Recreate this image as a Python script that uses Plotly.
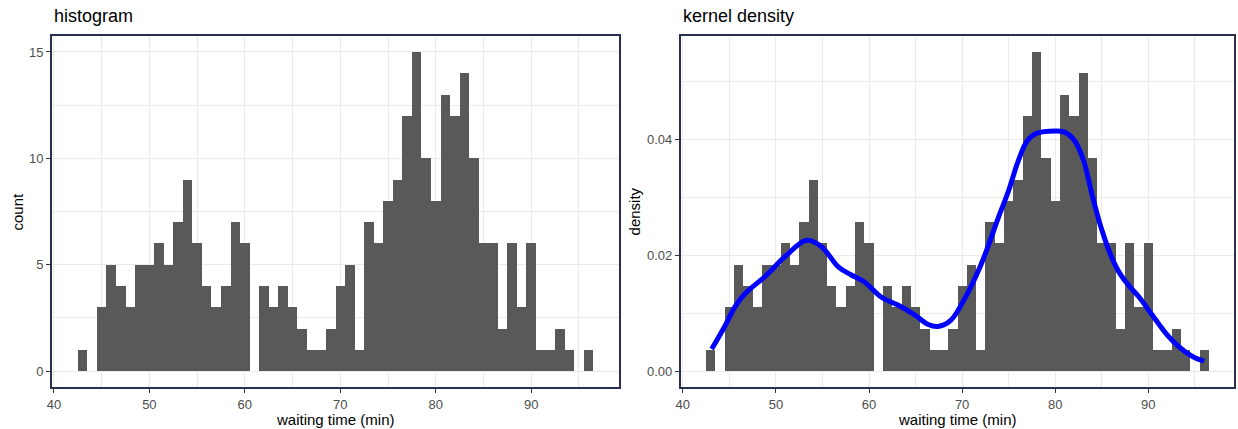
import plotly.graph_objects as go

# Old Faithful waiting times, 1-minute bins centred on whole minutes
waiting = list(range(43, 97))
counts = [1, 0, 3, 5, 4, 3, 5, 5, 6, 5, 7, 9, 6, 4, 3, 4, 7, 6,
          0, 4, 3, 4, 3, 2, 1, 1, 2, 4, 5, 1, 7, 6, 8, 9, 12, 15,
          10, 8, 13, 12, 14, 10, 6, 6, 2, 6, 3, 6, 1, 1, 2, 1, 0, 1]
n_total = sum(counts)
density = [c / n_total for c in counts]

# smooth density estimate drawn over the normalised histogram
kde_x = [43.1, 44.5, 45.6, 46.7, 48.8, 51.0, 53.3, 54.9, 56.7, 58.1, 59.5,
         61.3, 63.1, 64.9, 66.3, 67.4, 68.8, 70.2, 72.0, 74.0, 75.0, 76.0,
         77.0, 78.0, 80.0, 81.0, 82.0, 83.0, 84.0, 85.0, 86.0, 87.0, 88.0,
         89.0, 90.0, 91.0, 92.0, 93.0, 94.0, 95.0, 96.0]
kde_y = [0.0038, 0.0077, 0.0111, 0.0134, 0.0163, 0.0198, 0.0226, 0.0215,
         0.0180, 0.0166, 0.0154, 0.0128, 0.0114, 0.0097, 0.0081, 0.0077,
         0.0088, 0.0123, 0.0183, 0.0270, 0.0312, 0.0362, 0.0398, 0.0411,
         0.0415, 0.0413, 0.0400, 0.0366, 0.0302, 0.0244, 0.0199, 0.0167,
         0.0146, 0.0128, 0.0106, 0.0084, 0.0063, 0.0046, 0.0033, 0.0023,
         0.0017]

x_ticks = [40, 50, 60, 70, 80, 90]
count_ticks = [0, 5, 10, 15]
density_ticks = [0.00, 0.02, 0.04]
density_labels = ["0.00", "0.02", "0.04"]

BAR = "#595959"
BORDER = "#283050"
GRID = "#ebebeb"
TICKTXT = "#4d4d4d"
FONT = "Liberation Sans, Arial, sans-serif"

fig = go.Figure()
fig.add_trace(go.Bar(x=waiting, y=counts, width=1, marker=dict(color=BAR, line=dict(width=0)),
                     xaxis="x", yaxis="y", showlegend=False))
fig.add_trace(go.Bar(x=waiting, y=density, width=1, marker=dict(color=BAR, line=dict(width=0)),
                     xaxis="x2", yaxis="y2", showlegend=False))
fig.add_trace(go.Scatter(x=kde_x, y=kde_y, mode="lines",
                         line=dict(color="#0000ff", width=5, shape="spline", smoothing=1.0),
                         xaxis="x2", yaxis="y2", showlegend=False))

x_lo, x_hi = 42.5 - 0.05 * 54, 96.5 + 0.05 * 54
cmax = max(counts)
dmax = max(density)


def xaxis_style(domain, anchor):
    return dict(domain=domain, anchor=anchor, range=[x_lo, x_hi],
                tickvals=x_ticks, ticks="outside", ticklen=4, tickwidth=1, tickcolor="#333333",
                tickfont=dict(size=13, color=TICKTXT, family=FONT),
                showgrid=True, gridcolor=GRID, gridwidth=1.2,
                minor=dict(dtick=5, tick0=40, showgrid=True, gridcolor=GRID, gridwidth=0.6, ticks=""),
                showline=True, mirror=True, linecolor=BORDER, linewidth=2, zeroline=False)


def yaxis_style(anchor, rng, vals, labels, minor_step):
    return dict(domain=[0, 1], anchor=anchor, range=rng, tickvals=vals, ticktext=labels,
                ticks="outside", ticklen=4, tickwidth=1, tickcolor="#333333",
                tickfont=dict(size=13, color=TICKTXT, family=FONT),
                showgrid=True, gridcolor=GRID, gridwidth=1.2,
                minor=dict(dtick=minor_step, tick0=0, showgrid=True, gridcolor=GRID, gridwidth=0.6, ticks=""),
                showline=True, mirror=True, linecolor=BORDER, linewidth=2, zeroline=False)


split_l = 568 / 1184
split_r = 630 / 1184
fig.update_layout(
    width=1238, height=429,
    margin=dict(l=52, r=2, t=36, b=42),
    paper_bgcolor="white", plot_bgcolor="white",
    font=dict(family=FONT),
    bargap=0,
    xaxis=xaxis_style([0, split_l], "y"),
    yaxis=yaxis_style("x", [-0.05 * cmax, 1.05 * cmax], count_ticks, [str(v) for v in count_ticks], 2.5),
    xaxis2=xaxis_style([split_r, 1], "y2"),
    yaxis2=yaxis_style("x2", [-0.05 * dmax, 1.05 * dmax], density_ticks, density_labels, 0.01),
)

ann = [
    dict(text="histogram", x=0, y=1, xref="x domain", yref="paper", xanchor="left", yanchor="bottom",
         yshift=8, showarrow=False, font=dict(size=18, color="black", family=FONT)),
    dict(text="kernel density", x=0, y=1, xref="x2 domain", yref="paper", xanchor="left", yanchor="bottom",
         yshift=8, showarrow=False, font=dict(size=18, color="black", family=FONT)),
    dict(text="waiting time (min)", x=0.5, y=0, xref="x domain", yref="paper", xanchor="center", yanchor="middle",
         yshift=-32, showarrow=False, font=dict(size=15, color="black", family=FONT)),
    dict(text="waiting time (min)", x=0.5, y=0, xref="x2 domain", yref="paper", xanchor="center", yanchor="middle",
         yshift=-32, showarrow=False, font=dict(size=15, color="black", family=FONT)),
    dict(text="count", x=0, y=0.5, xref="x domain", yref="paper", xanchor="center", yanchor="middle",
         xshift=-35, textangle=-90, showarrow=False, font=dict(size=15, color="black", family=FONT)),
    dict(text="density", x=0, y=0.5, xref="x2 domain", yref="paper", xanchor="center", yanchor="middle",
         xshift=-46, textangle=-90, showarrow=False, font=dict(size=15, color="black", family=FONT)),
]
fig.update_layout(annotations=ann)

fig.write_html("out.html")
